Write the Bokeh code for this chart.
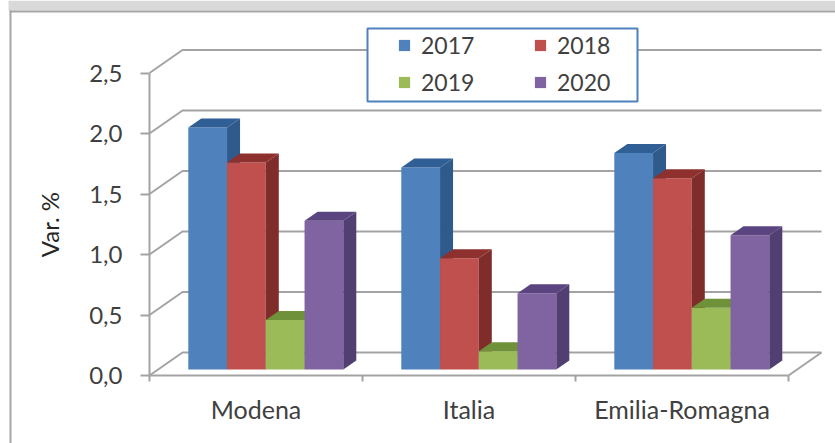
from bokeh.plotting import figure
from bokeh.models import (LinearAxis, FixedTicker, Legend, LegendItem, BoxAnnotation,
                          Range1d, ColumnDataSource)
from bokeh.embed import file_html
from bokeh.resources import INLINE

categories = ["Modena", "Italia", "Emilia-Romagna"]
years = ["2017", "2018", "2019", "2020"]
v2017 = [2.00, 1.67, 1.79]
v2018 = [1.71, 0.92, 1.58]
v2019 = [0.41, 0.15, 0.51]
v2020 = [1.23, 0.63, 1.11]
series = [v2017, v2018, v2019, v2020]
y_ticks = [0.0, 0.5, 1.0, 1.5, 2.0, 2.5]
y_labels = {0.0: "0,0", 0.5: "0,5", 1.0: "1,0", 1.5: "1,5", 2.0: "2,0", 2.5: "2,5"}

front_cols = ["#4f81bd", "#c0504d", "#9bbb59", "#8064a2"]
side_cols = ["#2f5a8c", "#7f2d2b", "#6a8a38", "#523f72"]
top_cols = ["#305f95", "#8e302d", "#6f9139", "#5b4580"]
GRID = "#a3a3a3"
TEXT = "#404040"

PX = 213.0   # pixels per category
PY = 121.0   # pixels per unit of value
W, H = 835, 443

p = figure(width=W, height=H, output_backend="svg", toolbar_location=None,
           x_axis_location=None, y_axis_location=None, min_border=0,
           x_range=Range1d(-149 / PX, (835 - 149) / PX),
           y_range=Range1d(-68 / PY, 375 / PY),
           outline_line_color=None, background_fill_color="white")
p.grid.visible = False


def chrome(l, r, t, b, col, line=None, lw=1):
    # screen-unit boxes measured from the bottom of the canvas
    p.add_layout(BoxAnnotation(left=l, right=r, top=H - t, bottom=H - b, left_units="screen", right_units="screen",
                               top_units="screen", bottom_units="screen", fill_color=col, fill_alpha=1,
                               line_color=line, line_alpha=1, line_width=lw))


chrome(8, W, 0, 10, "#d9d9d9")
chrome(9, W, 10, 12, "#a6a6a6")
chrome(9, 11, 10, H, "#a6a6a6")

# back wall + floor
WDX, WDY = 33 / PX, 23 / PY
n = len(categories)
xs = [[0, WDX, n + WDX] for _ in y_ticks] + [[n, n + WDX]]
ys = [[v, v + WDY, v + WDY] for v in y_ticks] + [[0, WDY]]
p.multi_line(xs, ys, line_color=GRID, line_width=2)

# bars
BDX, BDY = 13 / PX, 9 / PY
BW = 38.75 / PX
START = 38.8 / PX
BASE = 6.0 / PY
legend_items = []
for s, vals in enumerate(series):
    left = [i + START + s * BW for i in range(n)]
    right = [l + BW for l in left]
    top = [BASE + v for v in vals]
    src = ColumnDataSource(dict(left=left, right=right, top=top, bottom=[BASE] * n))
    r = p.quad(left="left", right="right", top="top", bottom="bottom", source=src,
               fill_color=front_cols[s], line_color=None)
    p.patches([[rr, rr + BDX, rr + BDX, rr] for rr in right],
              [[BASE, BASE + BDY, t + BDY, t] for t in top],
              fill_color=side_cols[s], line_color=None)
    p.patches([[l, l + BDX, rr + BDX, rr] for l, rr in zip(left, right)],
              [[t, t + BDY, t + BDY, t] for t in top],
              fill_color=top_cols[s], line_color=None)
    legend_items.append(LegendItem(label=years[s], renderers=[r]))

# axes
yax = LinearAxis(fixed_location=0, ticker=FixedTicker(ticks=y_ticks), major_label_overrides=y_labels,
                 bounds=(0, 2.5), axis_line_color=GRID, axis_line_width=2,
                 major_tick_line_color=GRID, major_tick_line_width=2, major_tick_in=0, major_tick_out=9,
                 minor_tick_line_color=None, major_label_standoff=18,
                 major_label_text_font="Lato", major_label_text_font_size="24px",
                 major_label_text_color=TEXT,
                 axis_label="Var. %", axis_label_text_font="Lato", axis_label_text_font_size="24px",
                 axis_label_text_font_style="normal", axis_label_text_color="#262626",
                 axis_label_standoff=22)
p.add_layout(yax, "left")

centres = [i + 0.5 for i in range(n)]
bounds = [float(i) for i in range(n + 1)]
xax = LinearAxis(fixed_location=0, ticker=FixedTicker(ticks=centres, minor_ticks=bounds),
                 major_label_overrides={c: lab for c, lab in zip(centres, categories)},
                 bounds=(0, n), axis_line_color=GRID, axis_line_width=2,
                 major_tick_line_color=None, major_tick_in=0, major_tick_out=0,
                 minor_tick_line_color=GRID, minor_tick_line_width=2, minor_tick_in=0, minor_tick_out=6,
                 major_label_standoff=12, major_label_text_font="Lato", major_label_text_font_size="25px",
                 major_label_text_color=TEXT)
p.add_layout(xax, "below")

# legend frame, then a borderless legend placed inside it
chrome(367, 637, 28, 101, "white", line="#4f81bd", lw=2)
legend = Legend(items=legend_items, ncols=2, orientation="horizontal", location=(397, 347),
                glyph_width=14, glyph_height=14, label_standoff=10,
                label_width=103, label_text_font="Lato", label_text_font_size="23px",
                label_text_color=TEXT, spacing=9, padding=4, margin=0,
                border_line_color=None, background_fill_alpha=0)
p.add_layout(legend, "center")

open("out.html", "w").write(file_html(p, INLINE))
